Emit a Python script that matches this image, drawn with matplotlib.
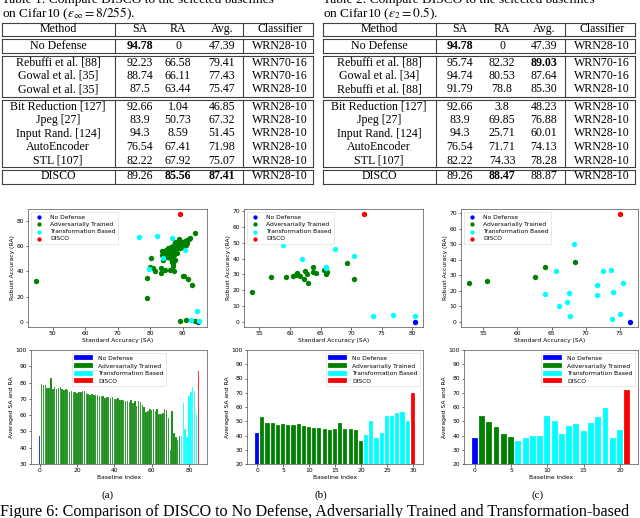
import matplotlib
matplotlib.use("Agg")
import matplotlib.pyplot as plt
from matplotlib.lines import Line2D
import numpy as np

plt.rcParams['mathtext.fontset'] = 'stix'

# ---------------- table data ----------------
table_cols = ["Method", "SA", "RA", "Avg.", "Classifier"]
t1_methods = ["No Defense", "Rebuffi et al. [88]", "Gowal et al. [35]", "Gowal et al. [35]",
              "Bit Reduction [127]", "Jpeg [27]", "Input Rand. [124]", "AutoEncoder", "STL [107]", "DISCO"]
t1_sa = ["94.78", "92.23", "88.74", "87.5", "92.66", "83.9", "94.3", "76.54", "82.22", "89.26"]
t1_ra = ["0", "66.58", "66.11", "63.44", "1.04", "50.73", "8.59", "67.41", "67.92", "85.56"]
t1_avg = ["47.39", "79.41", "77.43", "75.47", "46.85", "67.32", "51.45", "71.98", "75.07", "87.41"]
t1_clf = ["WRN28-10", "WRN70-16", "WRN70-16", "WRN28-10", "WRN28-10", "WRN28-10", "WRN28-10",
          "WRN28-10", "WRN28-10", "WRN28-10"]
t1_bold = {(0, 1), (9, 2), (9, 3)}

t2_methods = ["No Defense", "Rebuffi et al. [88]", "Gowal et al. [34]", "Rebuffi et al. [88]",
              "Bit Reduction [127]", "Jpeg [27]", "Input Rand. [124]", "AutoEncoder", "STL [107]", "DISCO"]
t2_sa = ["94.78", "95.74", "94.74", "91.79", "92.66", "83.9", "94.3", "76.54", "82.22", "89.26"]
t2_ra = ["0", "82.32", "80.53", "78.8", "3.8", "69.85", "25.71", "71.71", "74.33", "88.47"]
t2_avg = ["47.39", "89.03", "87.64", "85.30", "48.23", "76.88", "60.01", "74.13", "78.28", "88.87"]
t2_clf = t1_clf
t2_bold = {(0, 1), (1, 3), (9, 2)}

# ---------------- scatter data ----------------
groups = ["No Defense", "Adversarially Trained", "Transformation Based", "DISCO"]
colors = ["blue", "green", "cyan", "red"]

# (a)
a_nodef_sa = [94.78]; a_nodef_ra = [0.0]
a_disco_sa = [89.26]; a_disco_ra = [85.56]
a_trans_sa = [76.54, 82.22, 86.8, 83.9, 79.7, 90.7, 94.3, 92.66, 95.0]
a_trans_ra = [67.41, 67.92, 66.8, 50.73, 42.1, 57.2, 8.59, 1.04, 0.2]
a_adv_sa = [83.5, 83.8, 84.2, 84.5, 84.9, 85.1, 85.3, 85.5, 85.6, 85.8,
            86.0, 86.1, 86.2, 86.4, 86.5, 86.6, 86.7, 86.8, 87.0, 87.1,
            87.2, 87.3, 87.4, 87.5, 87.6, 87.7, 87.8, 87.9, 88.0, 88.1,
            88.2, 88.3, 88.4, 88.5, 88.74, 88.8, 88.9, 89.0, 89.2, 89.3,
            89.5, 89.7, 89.9, 90.1, 90.3, 90.6, 90.9, 91.2, 91.5, 92.0,
            92.23, 84.0,
            44.9, 78.9, 79.0, 80.4, 79.9, 81.0, 81.4, 83.4, 83.4, 84.6,
            86.2, 87.4, 87.1, 87.0, 90.0, 90.3, 91.6, 92.9, 89.2, 90.9,
            93.9, 93.8, 87.5]
a_adv_ra = [56.5, 53.5, 55.0, 52.5, 57.5, 54.0, 51.5, 56.0, 58.5, 53.0,
            55.5, 50.5, 57.0, 59.5, 54.5, 47.5, 52.0, 56.5, 58.0, 60.5,
            55.0, 53.0, 61.5, 57.5, 59.0, 49.5, 56.0, 62.5, 60.0, 58.0,
            54.5, 63.5, 61.0, 59.0, 66.11, 65.0, 62.0, 60.5, 64.0, 58.5,
            61.5, 63.0, 59.5, 62.5, 60.0, 64.5, 61.0, 65.5, 63.0, 66.0,
            66.58, 49.0,
            32.8, 18.5, 34.9, 50.7, 43.5, 43.0, 40.0, 38.7, 43.0, 41.3,
            41.3, 40.3, 44.0, 46.7, 36.5, 36.2, 34.1, 29.3, 0.3, 1.3,
            0.3, 70.9, 63.44]

# (b)
b_nodef_sa = [80.4]; b_nodef_ra = [0.0]
b_disco_sa = [72.1]; b_disco_ra = [68.0]
b_trans_sa = [58.8, 61.9, 65.8, 67.4, 70.4, 73.6, 76.9, 80.4, 65.9]
b_trans_ra = [48.3, 39.6, 34.6, 46.1, 41.8, 3.4, 3.9, 3.4, 34.0]
b_adv_sa = [53.8, 56.9, 59.3, 60.5, 60.9, 61.1, 61.6, 62.2, 62.5, 62.7,
            62.9, 63.7, 63.8, 64.3, 65.6, 65.8, 66.1, 69.3, 70.4, 61.1]
b_adv_ra = [19.0, 28.5, 28.5, 29.0, 29.8, 30.2, 29.0, 27.2, 32.2, 30.4,
            24.6, 34.7, 31.2, 30.6, 33.0, 30.4, 31.4, 36.9, 27.2, 30.8]

# (c)
c_nodef_sa = [76.5]; c_nodef_ra = [0.0]
c_disco_sa = [75.1]; c_disco_ra = [69.4]
c_trans_sa = [68.3, 65.7, 64.0, 66.1, 67.2, 67.5, 67.7, 71.7, 71.7, 72.6,
              73.7, 74.0, 73.8, 75.0, 75.5]
c_trans_ra = [50.2, 32.9, 17.8, 10.3, 12.9, 18.4, 3.9, 23.7, 17.3, 32.9,
              33.6, 18.9, 2.0, 4.8, 25.0]
c_adv_sa = [52.9, 55.6, 62.6, 64.0, 68.5]
c_adv_ra = [25.2, 26.3, 29.2, 35.1, 38.4]

# ---------------- bar data (averaged SA and RA) ----------------
a_bar_nodef = [47.39]
a_bar_adv = [79.4, 78.5, 78.8, 76.6, 76.4, 82.6, 76.0, 77.0, 75.8, 76.6,
             77.0, 75.8, 75.4, 76.2, 75.4, 74.3, 74.7, 74.5, 74.3, 73.9,
             74.0, 74.4, 74.6, 74.6, 73.5, 73.0, 72.4, 73.2, 72.5, 72.2,
             72.6, 71.8, 72.0, 71.5, 70.8, 71.4, 71.0, 70.4, 70.9, 70.2,
             69.8, 70.3, 69.5, 69.0, 69.6, 68.7, 68.9, 68.2, 69.3, 67.5,
             68.5, 65.8, 68.6, 67.8, 66.5, 65.0, 61.8, 62.5, 63.6, 63.2,
             63.8, 62.4, 64.0, 61.0, 61.0, 61.2, 63.5, 63.4, 58.5, 38.5,
             62.8, 49.0, 46.5, 45.0, 47.0]
a_bar_trans = [47.0, 67.32, 51.45, 46.85, 71.98, 74.1, 77.0, 75.07, 61.0]
a_bar_disco = [87.41]

b_bar_nodef = [41.6]
b_bar_adv = [53.3, 49.1, 49.1, 47.2, 48.4, 47.2, 47.2, 47.9, 46.5, 45.8,
             45.4, 45.6, 44.9, 43.9, 44.4, 48.6, 44.6, 44.6, 43.9, 36.4]
b_bar_trans = [40.2, 50.5, 38.3, 41.6, 53.5, 53.5, 56.1, 56.8, 50.0]
b_bar_disco = [70.0]

c_bar_nodef = [38.2]
c_bar_adv = [53.4, 49.7, 46.0, 41.0, 39.1]
c_bar_trans = [36.1, 37.9, 40.0, 40.0, 53.6, 50.1, 41.0, 46.6, 47.8, 43.1,
               48.9, 52.9, 59.3, 37.9, 44.2]
c_bar_disco = [72.1]

# ---------------- figure ----------------
W, H = 640, 518
fig = plt.figure(figsize=(6.4, 5.18), dpi=100)


def fx(px):
    return px / W


def fy(py):
    return 1 - py / H


def ax_at(l, r, t, b):
    return fig.add_axes([fx(l), fy(b), (r - l) / W, (b - t) / H])


SERIF = ["Liberation Serif", "DejaVu Serif"]
TFS = 8.6


def hline(x0, x1, y, lw=0.8):
    fig.add_artist(Line2D([fx(x0), fx(x1)], [fy(y), fy(y)], transform=fig.transFigure,
                          color="0.25", lw=lw))


def vline(x, y0, y1, lw=0.8):
    fig.add_artist(Line2D([fx(x), fx(x)], [fy(y0), fy(y1)], transform=fig.transFigure,
                          color="0.25", lw=lw))


def draw_table(xs_border, xs_center, methods, sa, ra, avg, clf, bold, title_tail, title_x):
    fig.text(fx(title_x), fy(2.5), "Table %s: Compare DISCO to the selected baselines" % title_tail[0],
             family=SERIF, fontsize=9.6, va="baseline", ha="left")
    fig.text(fx(title_x), fy(17), title_tail[1], family=SERIF, fontsize=9.6,
             va="baseline", ha="left")
    boxes = [(23, 36), (39, 53), (56, 97), (100, 167), (170, 184)]
    xl, xm, xc, xr = xs_border
    for (t, b) in boxes:
        hline(xl, xr, t)
        hline(xl, xr, b)
        for x in (xl, xm, xc, xr):
            vline(x, t, b)
    header_y = 29.5
    for j, name in enumerate(table_cols):
        fig.text(fx(xs_center[j]), fy(header_y), name, family=SERIF, fontsize=TFS,
                 ha="center", va="center")
    row_y = [46, 62.5, 76, 89.5, 106.5, 120, 133.5, 147, 160.5, 176.5]
    for i in range(len(methods)):
        vals = [methods[i], sa[i], ra[i], avg[i], clf[i]]
        for j, v in enumerate(vals):
            fig.text(fx(xs_center[j]), fy(row_y[i]), v, family=SERIF, fontsize=TFS,
                     ha="center", va="center",
                     fontweight="bold" if (i, j) in bold else "normal")


draw_table((2, 115, 243, 313), (58, 140, 178, 222, 280), t1_methods, t1_sa, t1_ra, t1_avg,
           t1_clf, t1_bold, ("1", r"on Cifar10 ($\epsilon_\infty = 8/255$)."), 2)
draw_table((323, 436, 565, 635), (379, 460, 502, 544, 602), t2_methods, t2_sa, t2_ra, t2_avg,
           t2_clf, t2_bold, ("2", r"on Cifar10 ($\epsilon_2 = 0.5$)."), 323)

FS = 4.3


def style(ax):
    ax.tick_params(labelsize=FS, length=1.8, width=0.4, pad=1.2)
    for s in ax.spines.values():
        s.set_linewidth(0.5)
        s.set_edgecolor("0.3")


def scatter_panel(ax, data, xticks, yticks):
    for (sx, sy), c, g in zip(data, colors, groups):
        ax.scatter(sx, sy, s=15, c=c, label=g, linewidths=0)
    ax.set_xticks(xticks)
    ax.set_yticks(yticks)
    ax.set_xlabel("Standard Accuracy (SA)", fontsize=FS, labelpad=1)
    ax.set_ylabel("Robust Accuracy (RA)", fontsize=FS, labelpad=1)
    ax.legend(loc="upper left", fontsize=FS, markerscale=0.8, handletextpad=0.8,
              borderpad=0.4, labelspacing=0.35, framealpha=0.8, edgecolor="0.8",
              fancybox=False).get_frame().set_linewidth(0.4)
    style(ax)


axa = ax_at(28, 207, 209, 327)
scatter_panel(axa, [(a_nodef_sa, a_nodef_ra), (a_adv_sa, a_adv_ra),
                    (a_trans_sa, a_trans_ra), (a_disco_sa, a_disco_ra)],
              [50, 60, 70, 80, 90], [0, 20, 40, 60, 80])
axb = ax_at(244, 423, 209, 327)
scatter_panel(axb, [(b_nodef_sa, b_nodef_ra), (b_adv_sa, b_adv_ra),
                    (b_trans_sa, b_trans_ra), (b_disco_sa, b_disco_ra)],
              [55, 60, 65, 70, 75, 80], [0, 10, 20, 30, 40, 50, 60, 70])
axc = ax_at(461, 638, 209, 327)
scatter_panel(axc, [(c_nodef_sa, c_nodef_ra), (c_adv_sa, c_adv_ra),
                    (c_trans_sa, c_trans_ra), (c_disco_sa, c_disco_ra)],
              [55, 60, 65, 70, 75], [0, 10, 20, 30, 40, 50, 60, 70])


def bar_panel(ax, parts, ylim, xticks, legend_loc):
    start = 0
    for vals, c, g in zip(parts, colors, groups):
        idx = np.arange(start, start + len(vals))
        ax.bar(idx, vals, color=c, label=g, width=0.8, edgecolor="white", linewidth=0.15)
        start += len(vals)
    ax.set_ylim(*ylim)
    ax.set_yticks(np.arange(ylim[0], ylim[1] + 1, 10))
    ax.set_xticks(xticks)
    ax.set_xlabel("Baseline index", fontsize=FS, labelpad=1)
    ax.set_ylabel("Averaged SA and RA", fontsize=FS, labelpad=1)
    ax.legend(loc=legend_loc, fontsize=FS, handlelength=3.2, handleheight=0.9,
              borderpad=0.4, labelspacing=0.35, framealpha=0.8, edgecolor="0.8",
              fancybox=False).get_frame().set_linewidth(0.4)
    style(ax)


bxa = ax_at(31, 207, 350, 464)
bar_panel(bxa, [a_bar_nodef, a_bar_adv, a_bar_trans, a_bar_disco], (30, 100),
          [0, 20, 40, 60, 80], "upper center")
bxb = ax_at(247, 423, 350, 464)
bar_panel(bxb, [b_bar_nodef, b_bar_adv, b_bar_trans, b_bar_disco], (20, 100),
          [0, 5, 10, 15, 20, 25, 30], "upper right")
bxc = ax_at(464, 638, 350, 464)
bar_panel(bxc, [c_bar_nodef, c_bar_adv, c_bar_trans, c_bar_disco], (20, 100),
          [0, 5, 10, 15, 20], "upper right")

for lab, x in (("(a)", 108), ("(b)", 321), ("(c)", 538)):
    fig.text(fx(x), fy(495), lab, family=SERIF, fontsize=8, ha="center", va="center")

fig.text(fx(0), fy(504), "Figure 6: Comparison of DISCO to No Defense, Adversarially Trained and "
         "Transformation-based", family=SERIF, fontsize=11.6, ha="left", va="top")

fig.savefig("out.png", dpi=100)
